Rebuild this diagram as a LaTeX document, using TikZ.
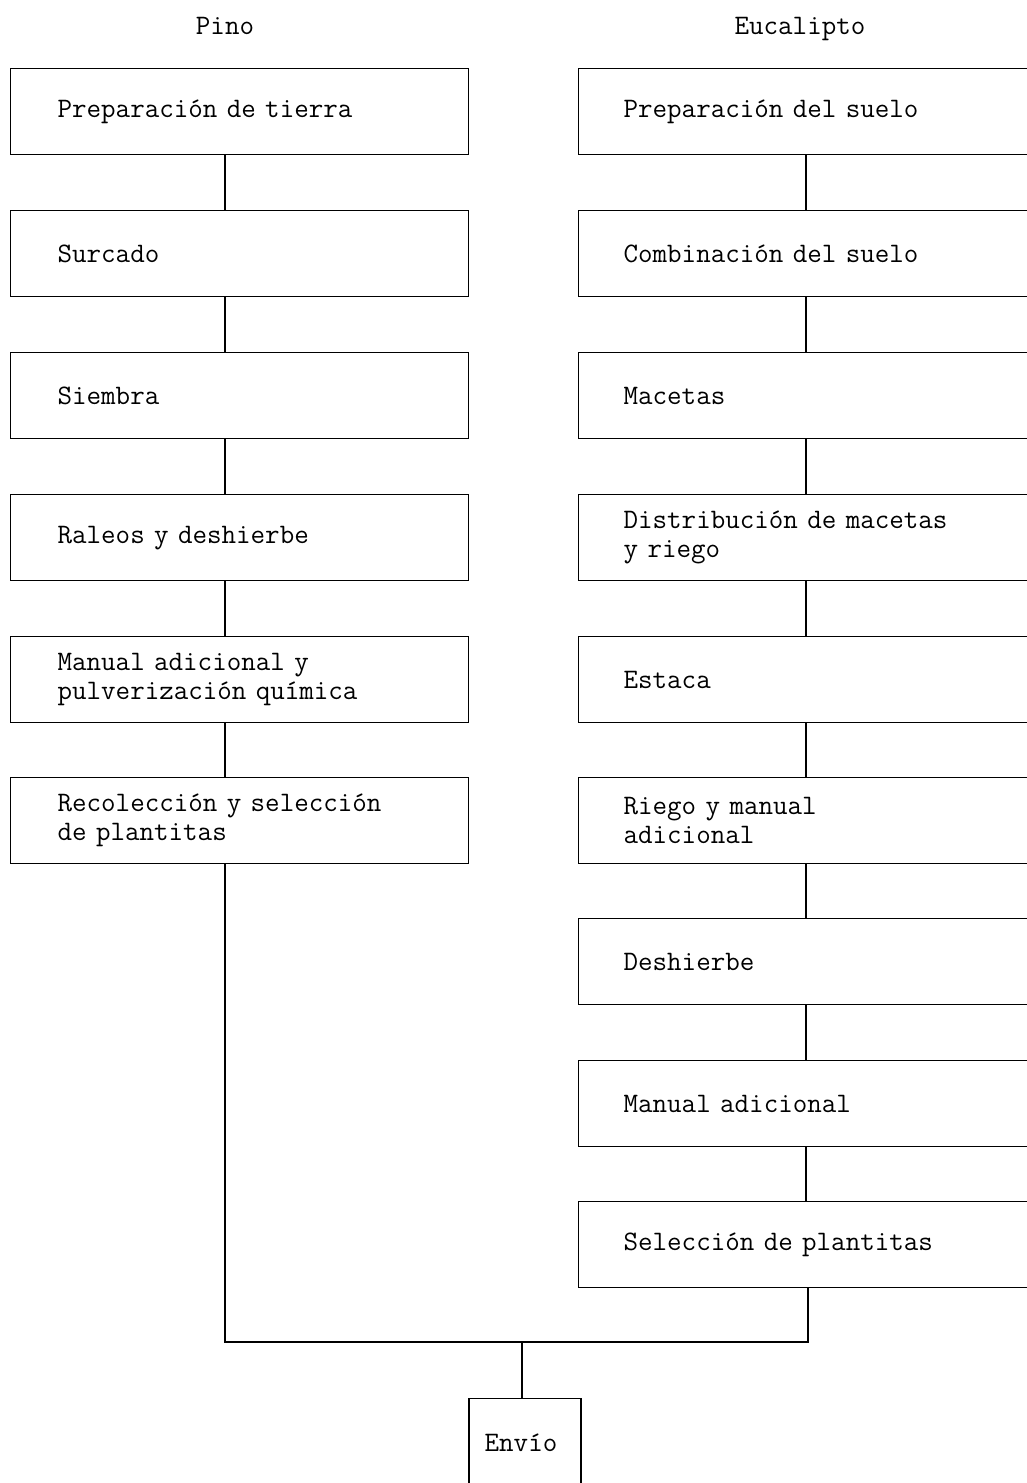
\documentclass[tikz,border=0pt]{standalone}
\usepackage{fontspec}
\begin{document}
\begin{tikzpicture}[x=1pt,y=-1pt,
  every node/.style={font=\ttfamily\fontsize{28.2}{29}\selectfont},
  lbox/.style={draw,line width=1.3pt,rectangle,minimum width=458pt,minimum height=86pt,
    inner xsep=47pt,text width=364pt,align=left,anchor=north west},
  rbox/.style={draw,line width=1.3pt,rectangle,minimum width=470pt,minimum height=86pt,
    inner xsep=45pt,text width=380pt,align=left,anchor=north west},
  conn/.style={line width=1.6pt}]
\useasboundingbox (0,0) rectangle (1027,1483);
\node[anchor=base] (hp) at (225,34) {Pino};
\node[anchor=base] (he) at (800,34) {Eucalipto};
% left column
\node[lbox] (l1) at (10,68) {Preparación de tierra};
\node[lbox] (l2) at (10,210) {Surcado};
\node[lbox] (l3) at (10,352) {Siembra};
\node[lbox] (l4) at (10,494) {Raleos y deshierbe};
\node[lbox] (l5) at (10,636) {Manual adicional y\\pulverización química};
\node[lbox] (l6) at (10,777) {Recolección y selección\\de plantitas};
% right column
\node[rbox] (r1) at (578,68) {Preparación del suelo};
\node[rbox] (r2) at (578,210) {Combinación del suelo};
\node[rbox] (r3) at (578,352) {Macetas};
\node[rbox] (r4) at (578,494) {Distribución de macetas\\y riego};
\node[rbox] (r5) at (578,636) {Estaca};
\node[rbox] (r6) at (578,777) {Riego y manual\\adicional};
\node[rbox] (r7) at (578,918) {Deshierbe};
\node[rbox] (r8) at (578,1060) {Manual adicional};
\node[rbox] (r9) at (578,1201) {Selección de plantitas};
% final box
\node[draw,line width=1.3pt,rectangle,minimum width=112pt,minimum height=100pt,anchor=north] (env) at (525,1398) {};
\node (envt) at (521,1443) {Envío};
% connectors
\coordinate (lx) at (225,0);
\coordinate (rx) at (806,0);
\coordinate (jl) at (225,1342);
\coordinate (jr) at (808,1342);
\coordinate (jm) at (522,1342);
\foreach \a/\b in {l1/l2,l2/l3,l3/l4,l4/l5,l5/l6}
  \draw[conn] (\a.south -| lx) -- (\b.north -| lx);
\foreach \a/\b in {r1/r2,r2/r3,r3/r4,r4/r5,r5/r6,r6/r7,r7/r8,r8/r9}
  \draw[conn] (\a.south -| rx) -- (\b.north -| rx);
\draw[conn] (l6.south -| lx) -- (jl) -- (jr) -- (r9.south -| jr);
\draw[conn] (jm) -- (env.north -| jm);
\end{tikzpicture}
\end{document}
